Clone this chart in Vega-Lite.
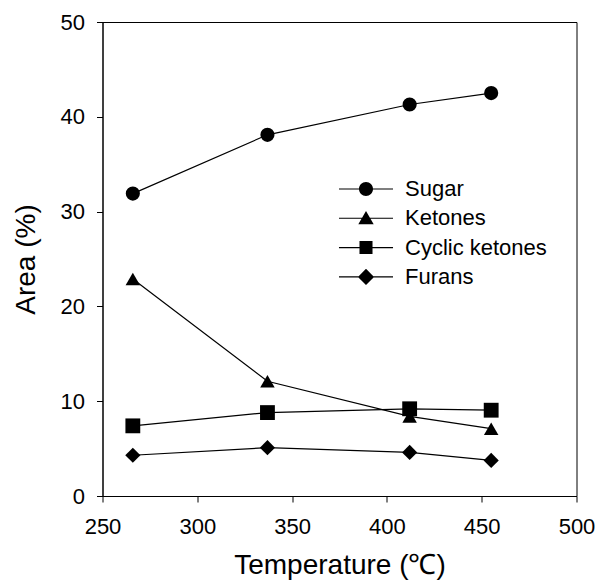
{
  "$schema": "https://vega.github.io/schema/vega-lite/v6.json",
  "width": 474,
  "height": 474,
  "autosize": "none",
  "padding": {"left": 102.5, "top": 22, "right": 31.5, "bottom": 92},
  "background": "white",
  "config": {
    "font": "Liberation Sans",
    "view": {"stroke": "black", "strokeWidth": 1},
    "axis": {
      "grid": false,
      "domainColor": "black",
      "tickColor": "black",
      "labelColor": "black",
      "titleColor": "black",
      "labelFont": "Liberation Sans",
      "titleFont": "Liberation Sans",
      "labelFontSize": 22,
      "titleFontSize": 28,
      "titleFontWeight": "normal",
      "tickSize": 6,
      "domainWidth": 1,
      "tickWidth": 1
    }
  },
  "data": {
    "values": [
      {"series": "Sugar", "temp": 266, "area": 31.9},
      {"series": "Sugar", "temp": 337, "area": 38.1},
      {"series": "Sugar", "temp": 412, "area": 41.3},
      {"series": "Sugar", "temp": 455, "area": 42.5},
      {"series": "Ketones", "temp": 266, "area": 22.9},
      {"series": "Ketones", "temp": 337, "area": 12.1},
      {"series": "Ketones", "temp": 412, "area": 8.4},
      {"series": "Ketones", "temp": 455, "area": 7.1},
      {"series": "Cyclic ketones", "temp": 266, "area": 7.4},
      {"series": "Cyclic ketones", "temp": 337, "area": 8.8},
      {"series": "Cyclic ketones", "temp": 412, "area": 9.2},
      {"series": "Cyclic ketones", "temp": 455, "area": 9.05},
      {"series": "Furans", "temp": 266, "area": 4.3},
      {"series": "Furans", "temp": 337, "area": 5.1},
      {"series": "Furans", "temp": 412, "area": 4.6},
      {"series": "Furans", "temp": 455, "area": 3.75}
    ]
  },
  "encoding": {
    "x": {
      "field": "temp",
      "type": "quantitative",
      "scale": {"domain": [250, 500], "nice": false, "zero": false},
      "axis": {"values": [250, 300, 350, 400, 450, 500], "labelPadding": 14, "titlePadding": 14, "title": "Temperature (℃)", "labelFlush": false}
    },
    "y": {
      "field": "area",
      "type": "quantitative",
      "scale": {"domain": [0, 50], "nice": false},
      "axis": {"values": [0, 10, 20, 30, 40, 50], "labelPadding": 12, "titlePadding": 20, "title": "Area (%)", "labelFlush": false}
    }
  },
  "layer": [
    {
      "mark": {"type": "line", "color": "black", "strokeWidth": 1.2},
      "encoding": {"detail": {"field": "series"}}
    },
    {
      "mark": {"type": "point", "filled": true, "color": "black", "opacity": 1},
      "encoding": {
        "shape": {
          "field": "series",
          "type": "nominal",
          "scale": {"domain": ["Sugar", "Ketones", "Cyclic ketones", "Furans"], "range": ["circle", "triangle-up", "square", "diamond"]},
          "legend": null
        },
        "size": {
          "field": "series",
          "type": "nominal",
          "scale": {"domain": ["Sugar", "Ketones", "Cyclic ketones", "Furans"], "range": [200, 230, 175, 270]},
          "legend": null
        }
      }
    },
    {
      "mark": {"type": "point", "filled": true, "color": "black", "opacity": 0},
      "encoding": {
        "shape": {
          "field": "series",
          "type": "nominal",
          "scale": {
            "domain": ["Sugar", "Ketones", "Cyclic ketones", "Furans"],
            "range": [
              "M-3.86,-0.08H3.86V0.08H-3.86ZM-1,0A1,1,0,1,1,1,0A1,1,0,1,1,-1,0Z",
              "M-3.86,-0.08H3.86V0.08H-3.86ZM0,-1.05L1.1,0.85L-1.1,0.85Z",
              "M-3.86,-0.08H3.86V0.08H-3.86ZM-0.93,-0.93H0.93V0.93H-0.93Z",
              "M-3.86,-0.08H3.86V0.08H-3.86ZM0,-1.15L1.15,0L0,1.15L-1.15,0Z"
            ]
          },
          "legend": {
            "title": null,
            "orient": "none",
            "legendX": 252.5,
            "legendY": 156,
            "padding": 0,
            "symbolSize": 196,
            "symbolOpacity": 1,
            "symbolFillColor": "black",
            "symbolStrokeColor": "black",
            "symbolStrokeWidth": 0,
            "symbolOffset": 0,
            "labelOffset": 28,
            "labelFontSize": 22,
            "labelFont": "Liberation Sans",
            "labelColor": "black",
            "rowPadding": 7.3,
            "labelLimit": 300
          }
        }
      }
    }
  ],
  "resolve": {"scale": {"shape": "independent"}}
}
